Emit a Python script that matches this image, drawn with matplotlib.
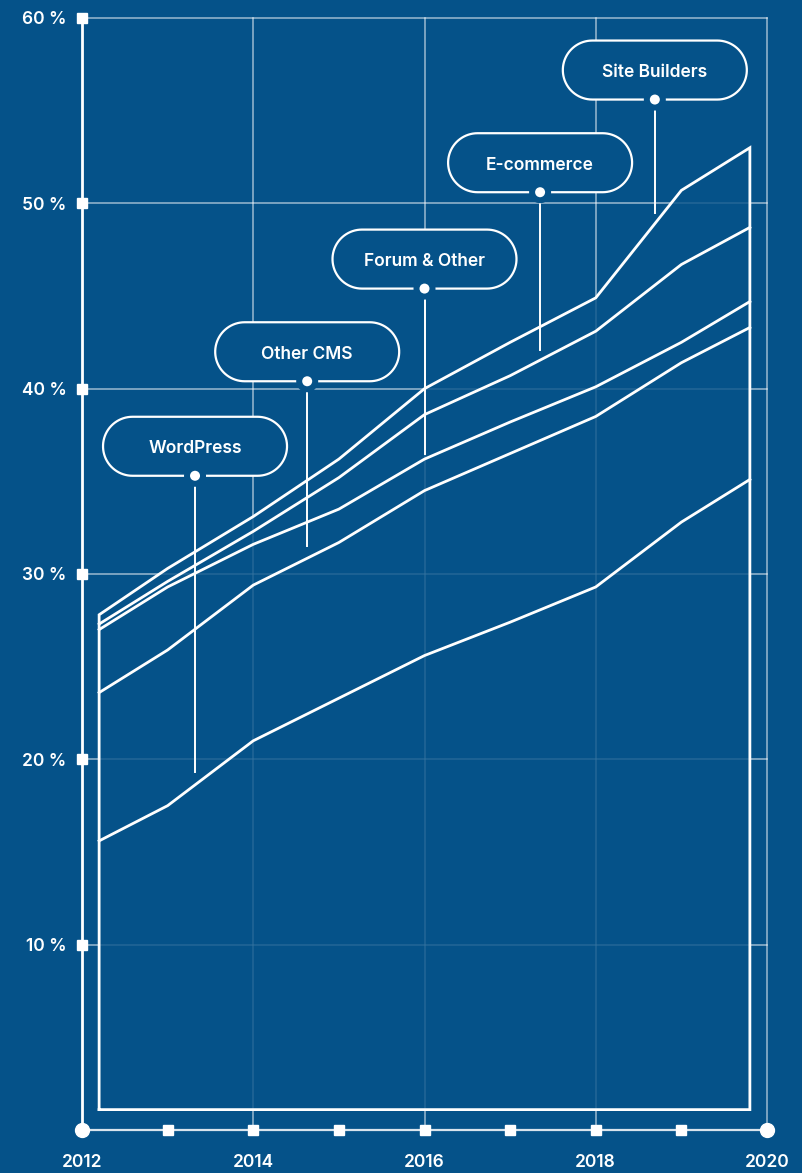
import numpy as np
import matplotlib.pyplot as plt
import matplotlib.transforms as mtransforms
from matplotlib.patches import Polygon, Circle

BG = '#055289'
plt.rcParams['font.family'] = ['Inter', 'DejaVu Sans']

# cumulative share of websites (stacked lines, %)
years = [2012.2, 2013, 2014, 2015, 2016, 2017, 2018, 2019, 2019.8]
wordpress = [15.6, 17.5, 21.0, 23.3, 25.6, 27.4, 29.3, 32.8, 35.1]
other_cms = [23.6, 25.9, 29.4, 31.7, 34.5, 36.5, 38.5, 41.4, 43.3]
forum_other = [27.0, 29.3, 31.6, 33.5, 36.2, 38.2, 40.1, 42.5, 44.7]
ecommerce = [27.3, 29.6, 32.3, 35.2, 38.6, 40.7, 43.1, 46.7, 48.7]
site_builders = [27.8, 30.3, 33.1, 36.2, 40.0, 42.5, 44.9, 50.7, 53.0]
base = 1.1

# labels: name, x of pointer, y of dot, y where pointer ends
label_names = ['WordPress', 'Other CMS', 'Forum & Other', 'E-commerce', 'Site Builders']
label_x = [2013.32, 2014.63, 2016.0, 2017.35, 2018.69]
label_dot_y = [35.3, 40.4, 45.4, 50.6, 55.6]
label_end_y = [19.3, 31.5, 36.5, 42.1, 49.5]

fig = plt.figure(figsize=(8.02, 11.73), dpi=100, facecolor=BG)
ax = fig.add_axes([82/802, 43/1173, 685/802, 1112/1173])
ax.set_facecolor(BG)
ax.set_xlim(2012, 2020)
ax.set_ylim(0, 60)

# grid
for gx in [2014, 2016, 2018, 2020]:
    ax.plot([gx, gx], [0, 60], color='white', alpha=0.6, lw=1.1, zorder=1, clip_on=False)
for gy in [10, 20, 30, 40, 50, 60]:
    ax.plot([2012, 2020], [gy, gy], color='white', alpha=0.6, lw=1.1, zorder=1, clip_on=False)

# outline shape, fill dims the grid inside
shape_x = [years[0]] + years + [years[-1], years[0]]
shape_y = [base] + site_builders + [base, base]
ax.fill(shape_x, shape_y, color=BG, alpha=0.8, zorder=2, lw=0)
ax.plot(shape_x, shape_y, color='white', lw=2.0, zorder=3, solid_joinstyle='miter')
for s in [wordpress, other_cms, forum_other, ecommerce]:
    ax.plot(years, s, color='white', lw=2.0, zorder=3)

# spines
for side in ['top', 'right']:
    ax.spines[side].set_visible(False)
ax.spines['left'].set_color('white')
ax.spines['left'].set_linewidth(2.0)
ax.spines['bottom'].set_color('white')
ax.spines['bottom'].set_alpha(0.85)
ax.spines['bottom'].set_linewidth(1.6)
ax.spines['left'].set_zorder(5)
ax.spines['bottom'].set_zorder(5)

yt = [10, 20, 30, 40, 50, 60]
ax.set_yticks(yt)
ax.set_yticklabels([f'{v} %' for v in yt], fontweight='semibold')
ax.set_xticks([2012, 2014, 2016, 2018, 2020])
ax.set_xticklabels(['2012', '2014', '2016', '2018', '2020'], fontweight='semibold')
ax.tick_params(axis='y', length=0, pad=11, labelsize=12.5, labelcolor='white')
ax.tick_params(axis='x', length=0, pad=17, labelsize=12.5, labelcolor='white')

# tick markers
ax.plot([2012]*len(yt), yt, 's', color='white', ms=6.5, clip_on=False, zorder=6)
ax.plot(range(2013, 2020), [0]*7, 's', color='white', ms=6.5, clip_on=False, zorder=6)
ax.plot([2012, 2020], [0, 0], 'o', color='white', ms=10, clip_on=False, zorder=6)

# pill outline in pixels, bottom centre at (0, 0)
r, half = 29.5, 62.5
t = np.linspace(-np.pi/2, np.pi/2, 40)
right = np.column_stack([half + r*np.cos(t), r + r*np.sin(t)])
left = np.column_stack([-half - r*np.cos(t), r - r*np.sin(t)])
pill = np.vstack([right, left])

px = mtransforms.Affine2D().scale(fig.dpi / 100)
for name, lx, dy, ey in zip(label_names, label_x, label_dot_y, label_end_y):
    ax.plot([lx, lx], [dy, ey], color='white', lw=1.4, zorder=7)
    tr = px + mtransforms.ScaledTranslation(lx, dy, ax.transData)
    ax.add_patch(Polygon(pill, closed=True, fc=BG, ec='white', lw=1.6, transform=tr, zorder=8))
    ax.add_patch(Circle((0, 0), 11, fc=BG, ec='none', transform=tr, zorder=9))
    ax.add_patch(Circle((0, 0), 5, fc='white', ec='none', transform=tr, zorder=10))
    ax.text(0, 29, name, transform=tr, ha='center', va='center_baseline', color='white',
            fontsize=12.5, fontweight='semibold', zorder=11)

fig.savefig('out.png', dpi=100, facecolor=BG)
